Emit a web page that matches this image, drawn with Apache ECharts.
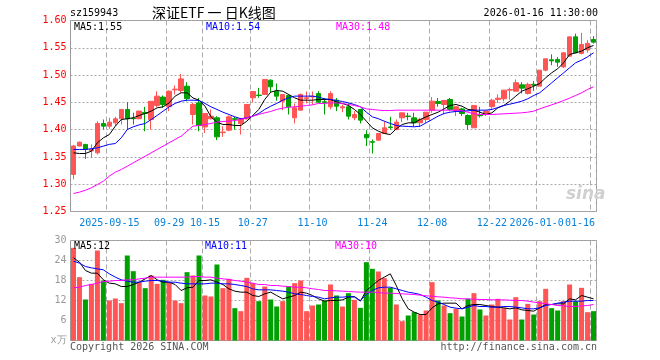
<!DOCTYPE html>
<html><head><meta charset="utf-8">
<script src="https://cdn.jsdelivr.net/npm/echarts@6/dist/echarts.min.js"></script>
<style>html,body{margin:0;padding:0;background:#fff}#c{width:660px;height:360px}</style>
</head><body><div id="c"></div>
<script>
const dates = ['2025-09-05','2025-09-08','2025-09-09','2025-09-10','2025-09-11','2025-09-12','2025-09-15','2025-09-16','2025-09-17','2025-09-18','2025-09-19','2025-09-22','2025-09-23','2025-09-24','2025-09-25','2025-09-26','2025-09-29','2025-09-30','2025-10-09','2025-10-10','2025-10-13','2025-10-14','2025-10-15','2025-10-16','2025-10-17','2025-10-20','2025-10-21','2025-10-22','2025-10-23','2025-10-24','2025-10-27','2025-10-28','2025-10-29','2025-10-30','2025-10-31','2025-11-03','2025-11-04','2025-11-05','2025-11-06','2025-11-07','2025-11-10','2025-11-11','2025-11-12','2025-11-13','2025-11-14','2025-11-17','2025-11-18','2025-11-19','2025-11-20','2025-11-21','2025-11-24','2025-11-25','2025-11-26','2025-11-27','2025-11-28','2025-12-01','2025-12-02','2025-12-03','2025-12-04','2025-12-05','2025-12-08','2025-12-09','2025-12-10','2025-12-11','2025-12-12','2025-12-15','2025-12-16','2025-12-17','2025-12-18','2025-12-19','2025-12-22','2025-12-23','2025-12-24','2025-12-25','2025-12-26','2025-12-29','2025-12-30','2025-12-31','2026-01-05','2026-01-06','2026-01-07','2026-01-08','2026-01-09','2026-01-12','2026-01-13','2026-01-14','2026-01-15','2026-01-16'];

const tickDates  = ['2025-09-15','2025-09-29','2025-10-15','2025-10-27','2025-11-10','2025-11-24','2025-12-08','2025-12-22','2026-01-05','2026-01-16'];
const tickLabels = ['2025-09-15','09-29','10-15','10-27','11-10','11-24','12-08','12-22','2026-01-05','01-16'];

const openP  = [1.318,1.370,1.373,1.361,1.3575,1.4113,1.4064,1.4125,1.4198,1.437,1.421,1.420,1.4316,1.4186,1.4443,1.4596,1.442,1.473,1.4717,1.4797,1.4278,1.449,1.405,1.420,1.4217,1.3945,1.399,1.420,1.4113,1.4198,1.4583,1.4633,1.4644,1.4907,1.4705,1.4522,1.4626,1.4217,1.4357,1.457,1.460,1.4662,1.451,1.4418,1.454,1.440,1.4418,1.4217,1.437,1.391,1.378,1.3807,1.393,1.405,1.4003,1.4217,1.425,1.4216,1.4125,1.4186,1.4357,1.4516,1.4461,1.4553,1.434,1.438,1.426,1.4034,1.4265,1.4296,1.442,1.4553,1.4565,1.4724,1.4705,1.4821,1.4662,1.483,1.4797,1.509,1.528,1.5286,1.515,1.5347,1.570,1.5396,1.546,1.5652];
const closeP = [1.370,1.377,1.3637,1.364,1.4113,1.4064,1.4137,1.4198,1.437,1.4198,1.420,1.434,1.4298,1.452,1.4614,1.446,1.4705,1.4742,1.493,1.457,1.446,1.4076,1.4296,1.4247,1.3868,1.3955,1.4235,1.419,1.4198,1.446,1.4699,1.4626,1.492,1.4785,1.4614,1.4644,1.4418,1.440,1.4644,1.4583,1.4614,1.4504,1.450,1.4662,1.443,1.4418,1.4247,1.4278,1.4174,1.385,1.377,1.393,1.4033,1.404,1.4137,1.4308,1.424,1.4125,1.4186,1.432,1.4522,1.448,1.4534,1.4369,1.442,1.4296,1.4094,1.4443,1.4255,1.434,1.454,1.4577,1.4724,1.4736,1.486,1.476,1.483,1.4815,1.509,1.5298,1.526,1.5237,1.5408,1.570,1.5408,1.556,1.558,1.5603];
const lowP   = [1.309,1.369,1.3465,1.348,1.3545,1.4003,1.4015,1.4064,1.4095,1.400,1.4095,1.419,1.397,1.4003,1.441,1.440,1.4339,1.4644,1.4675,1.452,1.4095,1.397,1.394,1.4186,1.3808,1.3868,1.397,1.400,1.391,1.4186,1.450,1.4583,1.464,1.4687,1.453,1.4357,1.4278,1.4113,1.4357,1.448,1.446,1.449,1.4278,1.437,1.434,1.432,1.4186,1.4174,1.4113,1.370,1.3563,1.380,1.392,1.400,1.399,1.4137,1.417,1.405,1.405,1.4125,1.4308,1.442,1.428,1.434,1.425,1.425,1.400,1.4034,1.422,1.425,1.438,1.449,1.452,1.455,1.4705,1.4662,1.4644,1.471,1.4797,1.507,1.518,1.515,1.513,1.534,1.5396,1.538,1.541,1.558];
const highP  = [1.372,1.378,1.373,1.373,1.4155,1.4186,1.4217,1.4235,1.438,1.450,1.431,1.434,1.4418,1.452,1.4705,1.4626,1.4717,1.481,1.502,1.487,1.449,1.458,1.4296,1.437,1.4247,1.4064,1.426,1.423,1.4217,1.446,1.4699,1.4766,1.492,1.492,1.4846,1.4644,1.4644,1.448,1.4662,1.4699,1.4699,1.4705,1.458,1.4705,1.458,1.446,1.448,1.434,1.438,1.399,1.382,1.393,1.4155,1.4235,1.4186,1.4308,1.4308,1.431,1.4217,1.432,1.4595,1.458,1.4534,1.458,1.442,1.440,1.428,1.4443,1.4418,1.434,1.4565,1.4644,1.4724,1.477,1.492,1.487,1.486,1.489,1.509,1.5298,1.538,1.533,1.5408,1.570,1.576,1.5774,1.564,1.5713];

const ma5  = [1.3575,1.3563,1.3563,1.3606,1.376,1.385,1.391,1.4064,1.4186,1.420,1.4217,1.426,1.4296,1.434,1.440,1.4418,1.449,1.4614,1.4675,1.4675,1.458,1.454,1.443,1.4235,1.4137,1.4094,1.4094,1.4076,1.4076,1.4155,1.426,1.437,1.4553,1.4687,1.4717,1.4705,1.4644,1.4583,1.454,1.454,1.454,1.4553,1.4553,1.4553,1.4504,1.448,1.4443,1.437,1.4278,1.4155,1.4033,1.3972,1.393,1.391,1.4015,1.4094,1.4125,1.4125,1.4186,1.4235,1.4278,1.432,1.438,1.4443,1.4461,1.443,1.437,1.4357,1.432,1.4278,1.4308,1.440,1.4443,1.4522,1.4614,1.4705,1.4748,1.4797,1.4846,1.495,1.5041,1.5115,1.5225,1.5377,1.5408,1.5438,1.550,1.5542];
const ma10 = [1.3637,1.3637,1.3637,1.365,1.3667,1.3698,1.373,1.3746,1.385,1.4003,1.4052,1.4088,1.4113,1.4186,1.426,1.434,1.4418,1.448,1.4522,1.454,1.454,1.4534,1.448,1.4418,1.437,1.432,1.4278,1.4235,1.420,1.4217,1.4247,1.4296,1.437,1.443,1.448,1.454,1.4583,1.4614,1.4614,1.4614,1.4614,1.4596,1.4565,1.4553,1.4535,1.4516,1.449,1.446,1.4418,1.432,1.4235,1.420,1.4155,1.4113,1.4076,1.4064,1.4058,1.4052,1.4064,1.4125,1.4186,1.4247,1.4296,1.432,1.4333,1.4339,1.4345,1.4357,1.4357,1.4357,1.437,1.4406,1.4443,1.4467,1.4492,1.4522,1.4565,1.4626,1.4675,1.4766,1.4858,1.495,1.5041,1.5133,1.5225,1.5273,1.5334,1.5408];
const ma30 = [1.283,1.2855,1.289,1.2935,1.2995,1.3056,1.3148,1.322,1.327,1.333,1.3392,1.3453,1.3514,1.3575,1.3637,1.3698,1.376,1.382,1.388,1.3972,1.4064,1.4076,1.4094,1.4113,1.4137,1.415,1.4155,1.4168,1.4186,1.4217,1.4247,1.4278,1.4308,1.4333,1.437,1.4394,1.4412,1.4418,1.443,1.4443,1.4455,1.448,1.448,1.449,1.449,1.448,1.446,1.4443,1.4418,1.438,1.437,1.4357,1.435,1.435,1.4357,1.4357,1.4357,1.4357,1.4357,1.4357,1.4357,1.4357,1.4357,1.4357,1.4357,1.4345,1.432,1.429,1.4278,1.4278,1.4278,1.4284,1.429,1.4296,1.4302,1.4308,1.432,1.4339,1.438,1.4418,1.4455,1.4492,1.4534,1.4577,1.4626,1.4675,1.4736,1.4785];

const volume = [27.8,19,12.3,17,27,18,12,12.6,11.2,25.5,20.8,17.5,15.7,19.5,17,18.2,17.5,12,11.2,20.5,19.5,25.5,13.5,13.2,22.8,15.7,18.5,9.7,8.8,18.8,17.2,11.8,16.2,12.3,10.2,11.8,16.2,17.2,18,8.8,10.5,10.8,12,16.8,13.5,10.2,14.2,12.2,9.8,23.5,21.5,20.7,18.7,15.8,10.8,5.8,7.5,8.5,7.8,9,17.5,12,10.5,8.2,9.5,7.2,12.5,14.2,9.3,7.5,10.8,12.5,9.7,6.3,13,6.3,11,7.8,11.8,15.5,9.7,9,11.8,16.8,11.8,15.8,8.5,8.8];
const volMa5  = [24.8,23.5,21,20.2,20.2,18.2,17.2,17,16.2,16.2,16.8,17.5,18.5,19.5,18.2,17.5,17.5,16.8,15,15.8,16,18,18,18.2,17.5,16.8,15.5,14.8,14.5,14.5,13.5,13.2,14,14.5,13.5,12.5,13,13.5,14.5,14.2,13.5,12.5,11.8,12,12,12.2,13,13.2,11.8,15,16.5,18,19,20,16.5,12.5,9.5,8.5,7.8,7.8,9.8,11,11.2,11.2,11.2,9.5,10.5,10.8,10.8,10.5,10.2,10,9.8,9.5,9.8,9.2,9,8.8,9.8,10.8,10.8,11,11,12.5,12.2,13.5,13,12.5];
const volMa10 = [23.8,23.2,22.2,21.8,21.5,21.2,20,19,18.2,17.8,17.5,17.5,17.8,18,18,17.8,17.5,17.5,17.2,17,17,17,17,17.2,17.2,17,17,16.8,16.5,16.2,15.5,15.2,15.2,15.2,15,14.8,14.5,14,13.8,13.5,13.2,13,12.5,12.8,13,13,13.2,13,12,13.8,15,15.8,16,16,15.5,15,14.5,14.2,13.8,13,12,11.5,10.8,10,9.7,9.5,10,10.5,10.2,10.2,10,10,10.2,10.2,10,9.8,9.5,9.5,9.8,10.5,10.8,11.2,11.5,11.8,11.8,11.8,12,12];
const volMa30 = [15.8,16,16.5,16.8,17.2,17.7,17.8,18,18,18.2,18.2,18.5,18.7,19,19,19,19,19,19,19,19.2,19.2,19,19,18.7,18.5,18.3,18,17.8,17.5,17.2,16.8,16.8,16.5,16.5,16.3,16.2,16,16,15.8,15.5,15.3,15,15,14.9,14.8,14.7,14.6,14.5,14.5,14.5,14.4,14.2,14.2,14.1,14,13.9,13.8,13.6,13.4,13.3,13.1,13,12.8,12.7,12.5,12.5,12.4,12.3,12.3,12.2,12.2,12.2,12.1,12,12,11.8,11.5,11.3,11,10.8,10.5,10.4,10.2,10.2,10.4,10.5,10.8];

const UP = '#ff5555', DOWN = '#00a000';
const MONO = '"DejaVu Sans Mono", "Liberation Mono", monospace';
const GRIDC = '#aaaaaa';
const LAST = tickDates.length - 1;

const candleData = dates.map((d, i) => [openP[i], closeP[i], lowP[i], highP[i]]);
const volData = volume.map((v, i) => ({ value: v, itemStyle: { color: closeP[i] >= openP[i] ? UP : DOWN } }));
const isTick = (idx, val) => tickDates.indexOf(val) >= 0;

function txt(text, x, y, fill, opts) {
  opts = opts || {};
  return { type: 'text', x: x, y: y, z: 100, silent: true,
    style: { text: text, fill: fill, font: opts.font || ('10px ' + MONO),
      align: opts.align || 'left', textAlign: opts.align || 'left',
      verticalAlign: 'middle', textVerticalAlign: 'middle',
      backgroundColor: opts.bg, padding: opts.bg ? [0, 1] : 0 } };
}

const chart = echarts.init(document.getElementById('c'), null, { renderer: 'canvas' });
chart.setOption({
  animation: false,
  backgroundColor: '#fff',
  grid: [
    { left: 70.5, top: 20.5, width: 526, height: 191, show: true, borderColor: '#999', borderWidth: 1, backgroundColor: 'transparent' },
    { left: 70.5, top: 240.5, width: 526, height: 100, show: true, borderColor: '#999', borderWidth: 1, backgroundColor: 'transparent' }
  ],
  xAxis: [
    { type: 'category', gridIndex: 0, data: dates, boundaryGap: true,
      axisLine: { show: false }, axisTick: { show: false },
      axisLabel: { interval: isTick,
        formatter: v => { const k = tickDates.indexOf(v); return k === LAST ? '' : tickLabels[k]; },
        color: '#0a80d8', fontFamily: MONO, fontSize: 10, margin: 7, hideOverlap: false },
      splitLine: { show: true, interval: isTick, lineStyle: { color: GRIDC, type: [5, 3], width: 1 } } },
    { type: 'category', gridIndex: 1, data: dates, boundaryGap: true,
      axisLine: { show: false }, axisTick: { show: false }, axisLabel: { show: false },
      splitLine: { show: true, interval: isTick, lineStyle: { color: GRIDC, type: [5, 3], width: 1 } } }
  ],
  yAxis: [
    { type: 'value', gridIndex: 0, min: 1.25, max: 1.60, interval: 0.05, scale: true,
      axisLine: { show: false }, axisTick: { show: false },
      axisLabel: { color: '#ff0000', fontFamily: MONO, fontSize: 10, margin: 4, formatter: v => v.toFixed(2) },
      splitLine: { show: true, lineStyle: { color: GRIDC, type: [2, 2], width: 1 } } },
    { type: 'value', gridIndex: 1, min: 0, max: 30, interval: 6,
      axisLine: { show: false }, axisTick: { show: false },
      axisLabel: { color: '#999', fontFamily: MONO, fontSize: 10, margin: 4, formatter: v => v === 0 ? 'x万' : String(v) },
      splitLine: { show: true, lineStyle: { color: GRIDC, type: [2, 2], width: 1 } } }
  ],
  series: [
    { type: 'candlestick', xAxisIndex: 0, yAxisIndex: 0, data: candleData, barWidth: 5, silent: true,
      itemStyle: { color: UP, color0: DOWN, borderColor: UP, borderColor0: DOWN, borderWidth: 1 } },
    { type: 'line', xAxisIndex: 0, yAxisIndex: 0, data: ma5, showSymbol: false, silent: true, lineStyle: { color: '#000', width: 1 } },
    { type: 'line', xAxisIndex: 0, yAxisIndex: 0, data: ma10, showSymbol: false, silent: true, lineStyle: { color: '#0000ff', width: 1 } },
    { type: 'line', xAxisIndex: 0, yAxisIndex: 0, data: ma30, showSymbol: false, silent: true, lineStyle: { color: '#ff00ff', width: 1 } },
    { type: 'bar', xAxisIndex: 1, yAxisIndex: 1, data: volData, barWidth: 5, silent: true },
    { type: 'line', xAxisIndex: 1, yAxisIndex: 1, data: volMa5, showSymbol: false, silent: true, lineStyle: { color: '#000', width: 1 } },
    { type: 'line', xAxisIndex: 1, yAxisIndex: 1, data: volMa10, showSymbol: false, silent: true, lineStyle: { color: '#0000ff', width: 1 } },
    { type: 'line', xAxisIndex: 1, yAxisIndex: 1, data: volMa30, showSymbol: false, silent: true, lineStyle: { color: '#ff00ff', width: 1 } }
  ],
  graphic: [
    txt('sz159943', 70, 13, '#000'),
    txt('深证ETF 一 日K线图', 152, 13, '#000', { font: '14px "Noto Sans CJK SC"' }),
    txt('2026-01-16 11:30:00', 598, 13, '#000', { align: 'right' }),
    txt('MA5:1.55', 74, 27, '#000'),
    txt('MA10:1.54', 206, 27, '#0000ff'),
    txt('MA30:1.48', 336, 27, '#ff00ff'),
    txt('MA5:12', 74, 246, '#000'),
    txt('MA10:11', 205, 246, '#0000ff'),
    txt('MA30:10', 335, 246, '#ff00ff'),
    txt('Copyright 2026 SINA.COM', 70, 347, '#555'),
    txt('http://finance.sina.com.cn', 597, 347, '#555', { align: 'right' }),
    txt(tickLabels[LAST], 596, 223, '#0a80d8', { align: 'right', bg: '#fff' }),
    txt('sina', 566, 195, '#d0d0d0', { font: 'italic bold 17px "DejaVu Sans"' })
  ]
});
</script></body></html>
